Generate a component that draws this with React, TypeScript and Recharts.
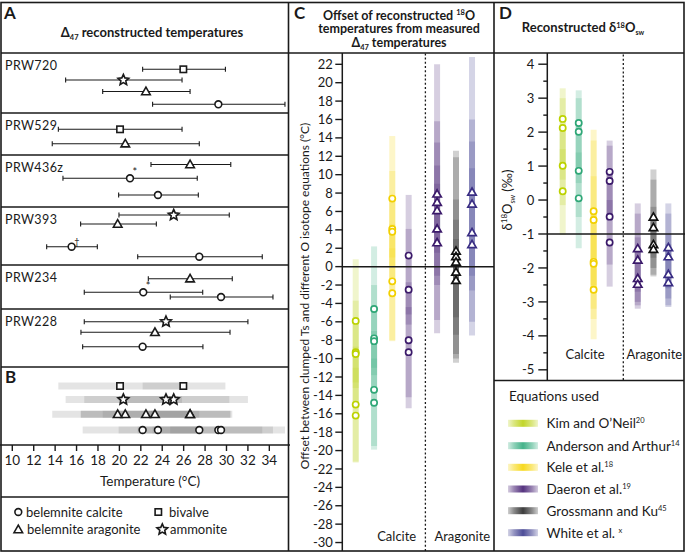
import React from 'react';
import { ScatterChart, Scatter, XAxis, YAxis, ErrorBar, ReferenceLine } from 'recharts';

const FONT = "Lato, 'Open Sans', 'DejaVu Sans', sans-serif";
const INK = '#1a1a1a';

// ---------------- Panel A / B data (Δ47 temperatures, °C) ----------------
const sampleNames = ['PRW720', 'PRW529', 'PRW436z', 'PRW393', 'PRW234', 'PRW228'];
const temperatureTicks = [10, 12, 14, 16, 18, 20, 22, 24, 26, 28, 30, 32, 34];

// [sample, temperature, lower bound, upper bound, note]
const bivalveTemps: any[] = [
  ['PRW720', 25.97, 22.17, 29.9, ''],
  ['PRW529', 20.06, 14.3, 25.85, ''],
];
const ammoniteTemps: any[] = [
  ['PRW720', 20.37, 14.98, 25.85, ''],
  ['PRW393', 25.07, 19.96, 30.26, ''],
  ['PRW228', 24.35, 16.72, 32.0, ''],
];
const aragoniteTemps: any[] = [
  ['PRW720', 22.48, 18.44, 26.6, ''],
  ['PRW529', 20.55, 13.73, 27.46, ''],
  ['PRW436z', 26.6, 22.95, 30.4, ''],
  ['PRW393', 19.84, 16.38, 23.45, ''],
  ['PRW234', 26.6, 22.7, 30.54, ''],
  ['PRW228', 23.32, 16.41, 30.33, ''],
];
const calciteTemps: any[] = [
  ['PRW720', 29.24, 23.1, 35.46, ''],
  ['PRW436z', 20.99, 14.73, 27.27, '*'],
  ['PRW436z', 23.6, 19.93, 27.37, ''],
  ['PRW393', 15.54, 13.21, 17.94, '†'],
  ['PRW393', 27.46, 21.71, 33.34, ''],
  ['PRW234', 22.23, 16.72, 27.78, '*'],
  ['PRW234', 29.49, 24.75, 34.34, ''],
  ['PRW228', 22.17, 16.57, 27.8, ''],
];

// ---------------- Panel C data: offset of δ18O temperatures from Δ47 (°C) ----------------
const equationKeys = ['kim', 'anderson', 'kele', 'daeron', 'gross', 'white'];
const equationNames = ['Kim and O’Neil', 'Anderson and Arthur', 'Kele et al.', 'Daeron et al.', 'Grossmann and Ku', 'White et al. '];
const equationRefs = ['20', '14', '18', '19', '45', 'x'];

const offsetColumns: any[] = [
  { eq: 'kim', mineral: 'calcite', values: [-5.9, -9.3, -9.5, -15.0, -16.2],
    ranges: [[-12.6, 0.8], [-14.9, -3.7], [-13.2, -5.8], [-21.3, -8.7], [-21.2, -11.0]] },
  { eq: 'anderson', mineral: 'calcite', values: [-4.6, -7.8, -8.1, -13.4, -14.8],
    ranges: [[-11.0, 2.2], [-13.6, -2.0], [-11.8, -4.4], [-19.9, -7.0], [-19.5, -10.0]] },
  { eq: 'kele', mineral: 'calcite', values: [7.4, 4.1, 3.8, -1.6, -2.9],
    ranges: [[1.0, 14.2], [-1.8, 10.4], [0.1, 7.5], [-8.1, 4.6], [-8.0, 2.0]] },
  { eq: 'daeron', mineral: 'calcite', values: [1.2, -2.5, -8.0, -9.3],
    ranges: [[-5.2, 7.8], [-6.3, 4.1], [-14.2, -1.7], [-15.4, -4.4]] },
  { eq: 'daeron', mineral: 'aragonite', values: [7.9, 7.0, 6.1, 4.1, 2.6],
    ranges: [[1.5, 22.0], [-2.0, 15.8], [-1.0, 13.5], [-5.8, 11.0], [-7.25, 9.0]] },
  { eq: 'gross', mineral: 'aragonite', values: [1.7, 1.1, 0.5, -0.6, -1.5],
    ranges: [[-7.4, 12.6], [-5.5, 11.9], [-9.5, 7.3], [-10.0, 5.1], [-10.45, 3.0]] },
  { eq: 'white', mineral: 'aragonite', values: [8.1, 6.8, 3.7, 2.4],
    ranges: [[-1.0, 22.8], [-2.6, 16.0], [-6.0, 13.6], [-7.5, 10.7]] },
];
const offsetTicks = [-30, -28, -26, -24, -22, -20, -18, -16, -14, -12, -10, -8, -6, -4, -2, 0, 2, 4, 6, 8, 10, 12, 14, 16, 18, 20, 22];

// ---------------- Panel D data: reconstructed δ18Osw (‰) ----------------
const swColumns: any[] = [
  { eq: 'kim', mineral: 'calcite', values: [2.39, 2.12, 1.01, 0.26],
    ranges: [[1.0, 3.29], [0.6, 3.0], [-0.15, 2.2], [-1.03, 1.5]] },
  { eq: 'anderson', mineral: 'calcite', values: [2.27, 2.01, 0.86, 0.05],
    ranges: [[0.9, 3.23], [0.5, 3.0], [-0.5, 2.2], [-1.42, 1.4]] },
  { eq: 'kele', mineral: 'calcite', values: [-0.33, -0.59, -1.82, -1.88, -2.64],
    ranges: [[-2.5, 2.07], [-2.7, 1.75], [-3.2, -0.4], [-3.5, 0.7], [-4.1, -1.0]] },
  { eq: 'daeron', mineral: 'calcite', values: [0.83, 0.56, -0.49, -1.25],
    ranges: [[-0.4, 1.75], [-0.6, 1.6], [-1.9, 0.9], [-2.55, 0.0]] },
  { eq: 'daeron', mineral: 'aragonite', values: [-1.43, -1.77, -2.31, -2.48],
    ranges: [[-2.7, -0.1], [-3.0, -0.4], [-3.2, -1.1], [-3.1, -1.4]] },
  { eq: 'gross', mineral: 'aragonite', values: [-0.5, -0.81, -1.31, -1.45],
    ranges: [[-1.7, 0.9], [-2.0, 0.6], [-2.25, -0.2], [-2.2, -0.5]] },
  { eq: 'white', mineral: 'aragonite', values: [-1.4, -1.67, -2.19, -2.43],
    ranges: [[-2.6, -0.1], [-2.9, -0.4], [-3.15, -1.0], [-3.1, -1.3]] },
];
const swTicks = [-5, -4.5, -4, -3.5, -3, -2.5, -2, -1.5, -1, -0.5, 0, 0.5, 1, 1.5, 2, 2.5, 3, 3.5, 4];

// ---------------- styles / layout (not data) ----------------
const barColors: Record<string, string> = {
  kim: '#c2d62a', anderson: '#45b38a', kele: '#f7d91f', daeron: '#55327f', gross: '#3c3c3c', white: '#4d4d98',
};
const markerColors: Record<string, string> = {
  kim: '#bcd200', anderson: '#2fa777', kele: '#f2d000', daeron: '#3b1a6a', gross: '#111111', white: '#392d83',
};

// vertical lanes for panel A/B (row layout)
const bivalveLanes = [16.3, 76.3];
const ammoniteLanes = [27, 162, 268.7];
const aragoniteLanes = [38.5, 90.7, 111.5, 171, 225.7, 279.3];
const calciteLanes = [51.3, 125.3, 142, 193.7, 203.7, 239.3, 244, 293.7];
const bLanes: Record<string, number> = { bivalve: 333, ammonite: 346.5, aragonite: 361.3, calcite: 377 };
const rowTops = [53, 113, 155, 207, 265, 309];

const cPositions = [1, 2.02, 3.03, 3.94, 5.52, 6.57, 7.46];
const dPositions = [1, 2.02, 2.97, 3.99, 5.78, 6.78, 7.73];

// ---------------- marker drawing ----------------
const starPath = (cx: number, cy: number, R: number, r: number) => {
  let d = '';
  for (let i = 0; i < 10; i++) {
    const ang = -Math.PI / 2 + (i * Math.PI) / 5;
    const rad = i % 2 === 0 ? R : r;
    d += (i === 0 ? 'M' : 'L') + (cx + rad * Math.cos(ang)).toFixed(2) + ',' + (cy + rad * Math.sin(ang)).toFixed(2);
  }
  return d + 'Z';
};

function drawMarker(kind: string, cx: number, cy: number, stroke: string, sw: number, small = false) {
  if (kind === 'circle') {
    return <circle cx={cx} cy={cy} r={small ? 3.1 : 3.4} fill="#fff" stroke={stroke} strokeWidth={sw} />;
  }
  if (kind === 'square') {
    return <rect x={cx - 3.2} y={cy - 3.2} width={6.4} height={6.4} fill="#fff" stroke={stroke} strokeWidth={sw} />;
  }
  if (kind === 'triangle') {
    const w = small ? 4.2 : 4.3;
    const h = small ? 7.2 : 7.6;
    const d = `M${cx},${cy - h * 0.58} L${cx + w},${cy + h * 0.42} L${cx - w},${cy + h * 0.42} Z`;
    return <path d={d} fill="#fff" stroke={stroke} strokeWidth={sw} strokeLinejoin="miter" />;
  }
  return <path d={starPath(cx, cy, 5.6, 2.6)} fill="#fff" stroke={stroke} strokeWidth={sw} strokeLinejoin="miter" />;
}

const markerShape = (kind: string) => (props: any) => {
  const { cx, cy, payload } = props;
  if (cx == null || cy == null) return <g />;
  return (
    <g>
      {drawMarker(kind, cx, cy, INK, 1.6)}
      {payload && payload.note ? (
        <text x={cx + 2.5} y={cy - 2} fontSize={payload.note === '*' ? 11 : 9} fontFamily={FONT} fill={INK}>
          {payload.note}
        </text>
      ) : null}
    </g>
  );
};

const colMarkerShape = (kind: string, color: string) => (props: any) => {
  const { cx, cy } = props;
  if (cx == null || cy == null) return <g />;
  return drawMarker(kind, cx, cy, color, 1.7, true);
};

const emptyShape = () => <g />;

// ---------------- Panel A + B chart ----------------
const toPoints = (rows: any[], lanes: number[]) =>
  rows.map((r, i) => ({ x: r[1], y: lanes[i], err: [r[1] - r[2], r[3] - r[1]], note: r[4] }));
const toBRow = (rows: any[], key: string) =>
  rows.filter((r) => !r[4]).map((r) => ({ x: r[1], y: bLanes[key], err: [r[1] - r[2], r[3] - r[1]], note: '' }));

function TemperatureChart() {
  const groups = [
    { key: 'bivalve', kind: 'square', rows: bivalveTemps, lanes: bivalveLanes },
    { key: 'ammonite', kind: 'star', rows: ammoniteTemps, lanes: ammoniteLanes },
    { key: 'aragonite', kind: 'triangle', rows: aragoniteTemps, lanes: aragoniteLanes },
    { key: 'calcite', kind: 'circle', rows: calciteTemps, lanes: calciteLanes },
  ];
  return (
    <ScatterChart width={290} height={442} margin={{ top: 0, right: 0, bottom: 0, left: 0 }} style={{ fontFamily: FONT }}>
      <XAxis
        type="number"
        dataKey="x"
        domain={[8.852, 35.93]}
        allowDataOverflow
        ticks={temperatureTicks}
        height={50}
        tickSize={6}
        tickMargin={4}
        axisLine={{ stroke: INK, strokeWidth: 1.4 }}
        tickLine={{ stroke: INK, strokeWidth: 1.4 }}
        tick={{ fontSize: 13.5, fill: INK, fontFamily: FONT }}
      />
      <YAxis type="number" dataKey="y" domain={[0, 392]} reversed hide allowDataOverflow />
      {groups.map((g) => (
        <Scatter key={'bbar-' + g.key} data={toBRow(g.rows, g.key)} shape={emptyShape} isAnimationActive={false}>
          <ErrorBar dataKey="err" direction="x" width={0} stroke="#7a7a7a" strokeWidth={7} strokeOpacity={0.2} isAnimationActive={false} />
        </Scatter>
      ))}
      {groups.map((g) => (
        <Scatter key={'bmk-' + g.key} data={toBRow(g.rows, g.key)} shape={markerShape(g.kind)} isAnimationActive={false} />
      ))}
      {groups.map((g) => (
        <Scatter key={'a-' + g.key} data={toPoints(g.rows, g.lanes)} shape={markerShape(g.kind)} isAnimationActive={false}>
          <ErrorBar dataKey="err" direction="x" width={2.5} stroke={INK} strokeWidth={1.1} isAnimationActive={false} />
        </Scatter>
      ))}
    </ScatterChart>
  );
}

// ---------------- Panels C and D ----------------
function ColumnsChart(props: any) {
  const { columns, positions, divider, xDomain, yDomain, ticks, refY, width, height, axisWidth, majorLen, minorLen, labelGap } = props;
  const tick = (tp: any) => {
    const { y, payload } = tp;
    const v = payload.value;
    const major = Number.isInteger(v);
    const len = major ? majorLen : minorLen;
    return (
      <g>
        <line x1={axisWidth - len} x2={axisWidth} y1={y} y2={y} stroke={INK} strokeWidth={1.4} />
        {major ? (
          <text x={axisWidth - labelGap} y={y} dy={4.6} textAnchor="end" fontSize={13} fontFamily={FONT} fill={INK}>
            {String(v)}
          </text>
        ) : null}
      </g>
    );
  };
  const pts = (col: any, i: number) =>
    col.values.map((v: number, j: number) => ({ x: positions[i], y: v, err: [v - col.ranges[j][0], col.ranges[j][1] - v] }));
  return (
    <ScatterChart width={width} height={height} margin={{ top: 0, right: 0, bottom: 0, left: 0 }} style={{ fontFamily: FONT }}>
      <XAxis type="number" dataKey="x" domain={xDomain} allowDataOverflow hide />
      <YAxis
        type="number"
        dataKey="y"
        domain={yDomain}
        allowDataOverflow
        ticks={ticks}
        interval={0}
        width={axisWidth}
        tickLine={false}
        axisLine={{ stroke: INK, strokeWidth: 1.5 }}
        tick={tick}
      />
      {columns.map((col: any, i: number) => (
        <Scatter key={'bar' + i} data={pts(col, i)} shape={emptyShape} isAnimationActive={false}>
          <ErrorBar dataKey="err" direction="y" width={0} stroke={barColors[col.eq]} strokeWidth={6} strokeOpacity={0.24} isAnimationActive={false} />
        </Scatter>
      ))}
      <ReferenceLine y={refY} stroke={INK} strokeWidth={1.5} />
      <ReferenceLine x={divider} stroke={INK} strokeWidth={1.3} strokeDasharray="2 2.2" />
      {columns.map((col: any, i: number) => (
        <Scatter
          key={'mk' + i}
          data={pts(col, i)}
          shape={colMarkerShape(col.mineral === 'calcite' ? 'circle' : 'triangle', markerColors[col.eq])}
          isAnimationActive={false}
        />
      ))}
    </ScatterChart>
  );
}

// ---------------- Overlay: frames, titles, labels, legends ----------------
function Overlay() {
  const t = { fontFamily: FONT, fill: INK } as any;
  const legendRows = [423.3, 445.7, 467.3, 489, 510.7, 532.7];
  return (
    <svg width={685} height={552} style={{ position: 'absolute', left: 0, top: 0, pointerEvents: 'none' }}>
      <defs>
        {equationKeys.map((k) => (
          <linearGradient key={k} id={'sw-' + k} x1="0" x2="1" y1="0" y2="0">
            <stop offset="0%" stopColor={barColors[k]} stopOpacity={0.25} />
            <stop offset="20%" stopColor={barColors[k]} stopOpacity={0.6} />
            <stop offset="50%" stopColor={barColors[k]} stopOpacity={1} />
            <stop offset="80%" stopColor={barColors[k]} stopOpacity={0.6} />
            <stop offset="100%" stopColor={barColors[k]} stopOpacity={0.25} />
          </linearGradient>
        ))}
      </defs>
      {/* frames */}
      <g stroke={INK} strokeWidth={1.6} fill="none">
        <rect x={1} y={2.5} width={683} height={548.5} />
        <line x1={1} x2={684} y1={53} y2={53} />
        <line x1={288.5} x2={288.5} y1={2.5} y2={551} />
        <line x1={494} x2={494} y1={2.5} y2={551} />
        <line x1={494} x2={684} y1={380.5} y2={380.5} />
        {[113, 155, 207, 265, 309, 367, 497].map((y) => (
          <line key={y} x1={1} x2={288.5} y1={y} y2={y} />
        ))}
      </g>

      {/* Panel A */}
      <text x={4} y={19} fontSize={17} fontWeight={700} {...t}>A</text>
      <text x={152} y={37} fontSize={13} fontWeight={700} textAnchor="middle" {...t}>
        Δ<tspan fontSize={7.5} dy={3}>47</tspan>
        <tspan dy={-3}> reconstructed temperatures</tspan>
      </text>
      {sampleNames.map((s, i) => (
        <text key={s} x={5} y={rowTops[i] + 17} fontSize={12.5} letterSpacing={0.4} {...t}>{s}</text>
      ))}

      {/* Panel B */}
      <text x={5} y={383} fontSize={17} fontWeight={700} {...t}>B</text>
      <text x={150} y={486} fontSize={13.5} textAnchor="middle" {...t}>Temperature (°C)</text>

      {/* legend A */}
      {drawMarker('circle', 18.3, 512, INK, 1.6)}
      <text x={26} y={516.5} fontSize={13} {...t}>belemnite calcite</text>
      {drawMarker('square', 158.3, 512, INK, 1.6)}
      <text x={169} y={516.5} fontSize={13} {...t}>bivalve</text>
      {drawMarker('triangle', 18.3, 529.5, INK, 1.6)}
      <text x={27} y={534} fontSize={13} {...t}>belemnite aragonite</text>
      {drawMarker('star', 162.3, 529.5, INK, 1.6)}
      <text x={170} y={534} fontSize={13} {...t}>ammonite</text>

      {/* Panel C */}
      <text x={294} y={19} fontSize={17} fontWeight={700} {...t}>C</text>
      <text x={399} y={19.5} fontSize={12.5} fontWeight={700} textAnchor="middle" {...t}>
        Offset of reconstructed <tspan fontSize={7.5} dy={-4.5}>18</tspan>
        <tspan dy={4.5}>O</tspan>
      </text>
      <text x={399} y={33} fontSize={12.5} fontWeight={700} textAnchor="middle" {...t}>temperatures from measured</text>
      <text x={399} y={46.5} fontSize={12.5} fontWeight={700} textAnchor="middle" {...t}>
        Δ<tspan fontSize={7.5} dy={3}>47</tspan>
        <tspan dy={-3}> temperatures</tspan>
      </text>
      <text x={0} y={0} fontSize={12} textAnchor="middle" transform="translate(309,296) rotate(-90)" {...t}>
        Offset between clumped Ts and different O isotope equations  (°C)
      </text>
      <text x={396.7} y={541} fontSize={13} textAnchor="middle" {...t}>Calcite</text>
      <text x={462.3} y={541} fontSize={13} textAnchor="middle" {...t}>Aragonite</text>

      {/* Panel D */}
      <text x={499} y={19} fontSize={17} fontWeight={700} {...t}>D</text>
      <text x={583} y={32} fontSize={13} fontWeight={700} textAnchor="middle" {...t}>
        Reconstructed δ<tspan fontSize={7.5} dy={-4.5}>18</tspan>
        <tspan dy={4.5}>O</tspan>
        <tspan fontSize={7} dy={3}>sw</tspan>
      </text>
      <text x={0} y={0} fontSize={13} textAnchor="middle" transform="translate(512,200) rotate(-90)" {...t}>
        δ<tspan fontSize={8} dy={-5}>18</tspan>
        <tspan dy={5}>O</tspan>
        <tspan fontSize={7} dy={3}>sw</tspan>
        <tspan dy={-3}> (‰)</tspan>
      </text>
      <text x={585} y={358.5} fontSize={13} textAnchor="middle" {...t}>Calcite</text>
      <text x={654.3} y={358.5} fontSize={13} textAnchor="middle" {...t}>Aragonite</text>

      {/* legend D */}
      <text x={509} y={401} fontSize={13.5} {...t}>Equations used</text>
      {equationKeys.map((k, i) => (
        <g key={k}>
          <rect x={508} y={legendRows[i] - 3.5} width={30} height={7} fill={`url(#sw-${k})`} />
          <text x={546.5} y={legendRows[i] + 4.8} fontSize={13.5} {...t}>
            {equationNames[i]}
            <tspan fontSize={7.5} dy={-5}>{equationRefs[i]}</tspan>
          </text>
        </g>
      ))}
    </svg>
  );
}

export default function App() {
  return (
    <div style={{ position: 'absolute', left: 0, top: 0, width: 685, height: 552, background: '#fff', overflow: 'hidden' }}>
      <div style={{ position: 'absolute', left: 0, top: 53 }}>
        <TemperatureChart />
      </div>
      <div style={{ position: 'absolute', left: 290, top: 53 }}>
        <ColumnsChart
          columns={offsetColumns}
          positions={cPositions}
          divider={4.87}
          xDomain={[0.256, 8.68]}
          yDomain={[-30.92, 23.23]}
          ticks={offsetTicks}
          refY={0}
          width={204}
          height={498}
          axisWidth={52.3}
          majorLen={7}
          minorLen={4}
          labelGap={9.5}
        />
      </div>
      <div style={{ position: 'absolute', left: 495, top: 53 }}>
        <ColumnsChart
          columns={swColumns}
          positions={dPositions}
          divider={4.86}
          xDomain={[0.019, 8.79]}
          yDomain={[-5.3, 4.33]}
          ticks={swTicks}
          refY={-1}
          width={190}
          height={327}
          axisWidth={52.3}
          majorLen={9}
          minorLen={4}
          labelGap={13}
        />
      </div>
      <Overlay />
    </div>
  );
}
